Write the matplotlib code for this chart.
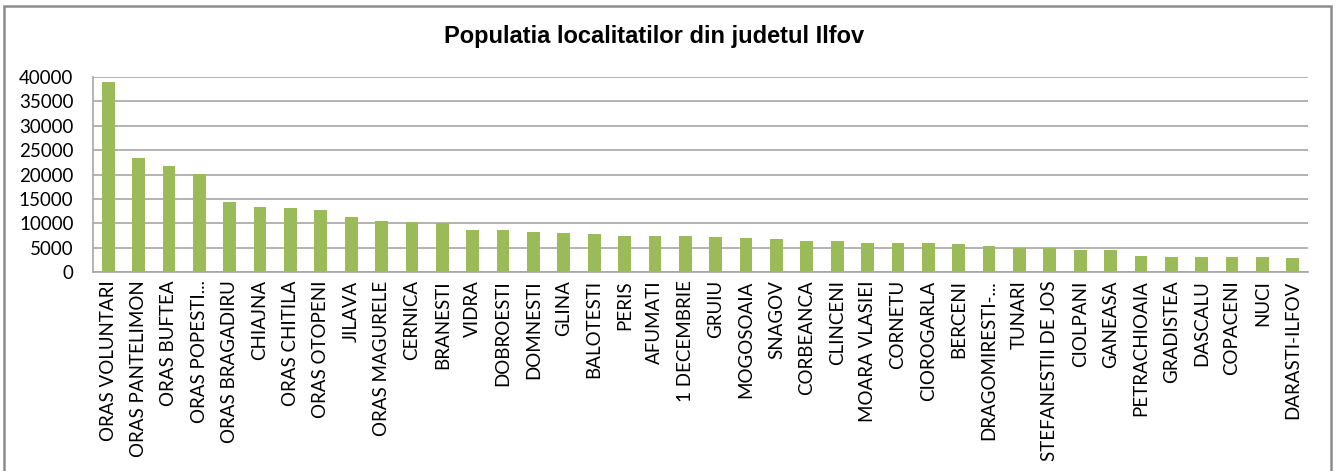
import numpy as np
import matplotlib.pyplot as plt
from matplotlib.patches import Rectangle


localitati = ['ORAS VOLUNTARI', 'ORAS PANTELIMON', 'ORAS BUFTEA', 'ORAS POPESTI...',
              'ORAS BRAGADIRU', 'CHIAJNA', 'ORAS CHITILA', 'ORAS OTOPENI', 'JILAVA',
              'ORAS MAGURELE', 'CERNICA', 'BRANESTI', 'VIDRA', 'DOBROESTI', 'DOMNESTI',
              'GLINA', 'BALOTESTI', 'PERIS', 'AFUMATI', '1 DECEMBRIE', 'GRUIU',
              'MOGOSOAIA', 'SNAGOV', 'CORBEANCA', 'CLINCENI', 'MOARA VLASIEI', 'CORNETU',
              'CIOROGARLA', 'BERCENI', 'DRAGOMIRESTI-...', 'TUNARI', 'STEFANESTII DE JOS',
              'CIOLPANI', 'GANEASA', 'PETRACHIOAIA', 'GRADISTEA', 'DASCALU', 'COPACENI',
              'NUCI', 'DARASTI-ILFOV']
populatie = [38900, 23400, 21800, 20200, 14300, 13350, 13150, 12750, 11350, 10550,
             10350, 10050, 8650, 8600, 8200, 8000, 7800, 7450, 7450, 7450, 7250,
             7050, 6850, 6450, 6450, 6050, 6050, 6000, 5800, 5250, 5000, 5000,
             4600, 4450, 3300, 3100, 3080, 3080, 3080, 2880]
y_ticks = list(range(0, 40001, 5000))
titlu = 'Populatia localitatilor din judetul Ilfov'


plt.rcParams['font.family'] = ['Lato', 'DejaVu Sans']

fig = plt.figure(figsize=(13.39, 4.71), dpi=100)
ax = fig.add_axes([93/1339, 1 - 272/471, (1308 - 93)/1339, (272 - 77)/471])

x = np.arange(len(localitati))
ax.bar(x, populatie, width=0.42, color='#9bbb59', zorder=3)

ax.set_xlim(-0.5, len(localitati) - 0.5)
ax.set_ylim(0, 40000)
ax.set_yticks(y_ticks)
ax.set_yticklabels([str(v) for v in y_ticks], fontsize=13.5)
ax.set_xticks(x)
ax.set_xticklabels(localitati, rotation=90, fontsize=13.5)
ax.tick_params(axis='y', length=0, pad=14)
ax.tick_params(axis='x', length=0, pad=6)

ax.grid(axis='y', color='#a6a6a6', linewidth=1.2, zorder=0)
for side in ['top', 'right']:
    ax.spines[side].set_visible(False)
for side in ['left', 'bottom']:
    ax.spines[side].set_color('#a6a6a6')
    ax.spines[side].set_linewidth(1.2)

fig.text(654/1339, 1 - 37/471, titlu, ha='center', va='center',
         fontsize=17, fontweight='bold', family='Liberation Sans')

# chart frame
fig.patches.append(Rectangle((4/1339, -0.02), (1331 - 4)/1339, 1.02 - 6/471,
                             transform=fig.transFigure, fill=False,
                             edgecolor='#8c8c8c', linewidth=1.8))

fig.savefig('out.png', dpi=100)
